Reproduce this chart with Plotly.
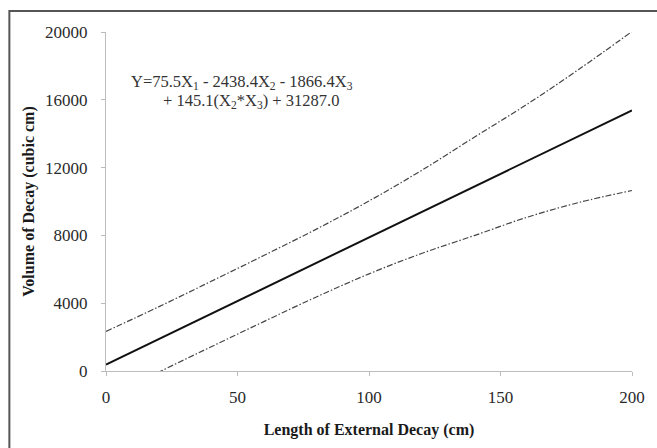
import plotly.graph_objects as go

# Data
length_cm = [0, 20, 40, 60, 80, 100, 120, 140, 160, 180, 200]
fit_x = [0, 200]
fit_volume = [380, 15380]
upper_volume = [2335, 3785, 5290, 6815, 8370, 10030, 11835, 13790, 15725, 17820, 20030]
lower_volume = [-1635, -75, 1430, 2915, 4370, 5730, 6935, 7990, 9065, 9950, 10650]

x_ticks = [0, 50, 100, 150, 200]
y_ticks = [0, 4000, 8000, 12000, 16000, 20000]
y_tick_labels = ["0", "4000", "8000", "12000", "16000", "20000"]

FONT = "Liberation Serif"
W, H = 657, 448
ML, MR, MT, MB = 106, 23, 32, 75
PW, PH = W - ML - MR, H - MT - MB


def px_to_paper_x(px):
    return (px - ML) / PW


def px_to_paper_y(py):
    return (H - MB - py) / PH


fig = go.Figure()
fig.add_trace(go.Scatter(x=length_cm, y=upper_volume, mode="lines", line_shape="spline",
                         line=dict(color="#444444", width=1.2, dash="6px,2px,1.5px,2px"),
                         showlegend=False, hoverinfo="skip"))
fig.add_trace(go.Scatter(x=length_cm, y=lower_volume, mode="lines", line_shape="spline",
                         line=dict(color="#444444", width=1.2, dash="6px,2px,1.5px,2px"),
                         showlegend=False, hoverinfo="skip"))
fig.add_trace(go.Scatter(x=fit_x, y=fit_volume, mode="lines",
                         line=dict(color="#111111", width=2),
                         showlegend=False, hoverinfo="skip"))

axis_common = dict(showline=True, linecolor="#bdbdbd", linewidth=1, ticks="outside",
                   ticklen=4, tickcolor="#bdbdbd", showgrid=False, zeroline=False,
                   tickfont=dict(family=FONT, size=17, color="#2a2a2a"))

fig.update_xaxes(range=[0, 200], tickvals=x_ticks, ticklabelstandoff=7,
                 title=dict(text="<b>Length of External Decay (cm)</b>",
                            font=dict(family=FONT, size=16, color="#1a1a1a"), standoff=17),
                 **axis_common)
fig.update_yaxes(range=[0, 20000], tickvals=y_ticks, ticktext=y_tick_labels,
                 ticklabelstandoff=10,
                 title=dict(text="<b>Volume of Decay (cubic cm)</b>",
                            font=dict(family=FONT, size=16, color="#1a1a1a"), standoff=6),
                 **axis_common)

fig.add_annotation(xref="paper", yref="paper", x=px_to_paper_x(129), y=px_to_paper_y(82),
                   xanchor="left", yanchor="middle", showarrow=False,
                   text="Y=75.5X<sub>1</sub> - 2438.4X<sub>2</sub> - 1866.4X<sub>3</sub>",
                   font=dict(family=FONT, size=16.5, color="#333333"))
fig.add_annotation(xref="paper", yref="paper", x=px_to_paper_x(161), y=px_to_paper_y(101),
                   xanchor="left", yanchor="middle", showarrow=False,
                   text="+ 145.1(X<sub>2</sub>*X<sub>3</sub>) + 31287.0",
                   font=dict(family=FONT, size=16.5, color="#333333"))

# outer frame (extends past the right and bottom edges of the image)
fig.add_shape(type="rect", xref="paper", yref="paper", layer="above",
              x0=px_to_paper_x(9), x1=px_to_paper_x(700),
              y0=px_to_paper_y(520), y1=px_to_paper_y(11),
              line=dict(color="#555555", width=2), fillcolor="rgba(0,0,0,0)")

fig.update_layout(width=W, height=H, margin=dict(l=ML, r=MR, t=MT, b=MB),
                  paper_bgcolor="white", plot_bgcolor="white",
                  font=dict(family=FONT))

fig.write_html("out.html")
